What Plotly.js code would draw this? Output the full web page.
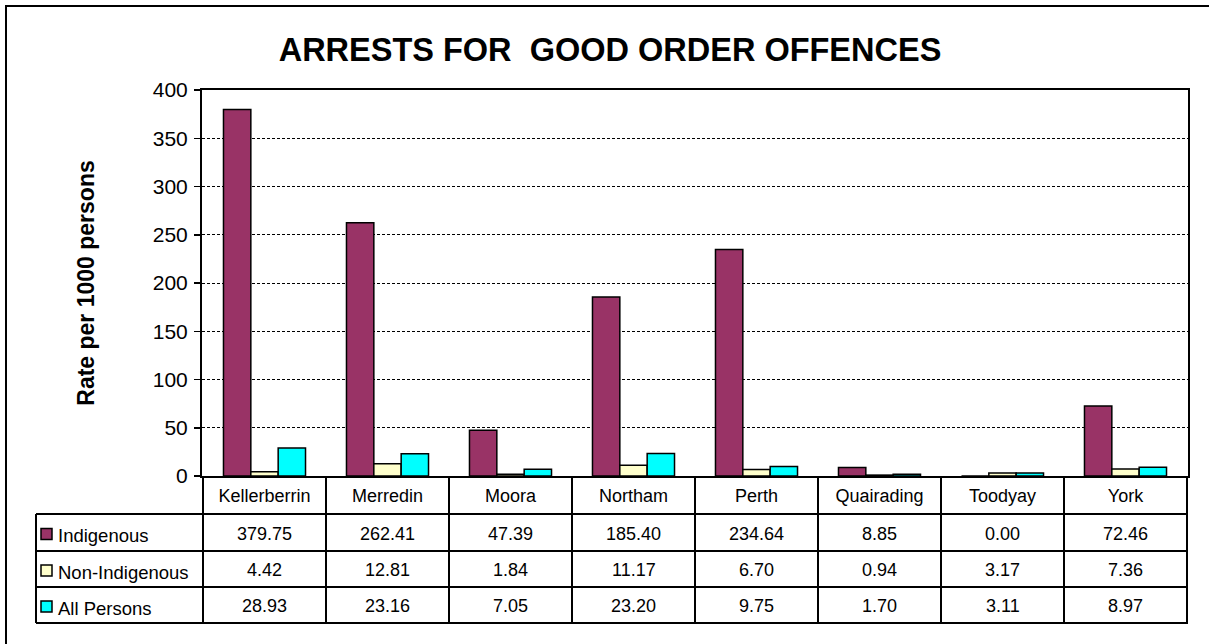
<!DOCTYPE html>
<html>
<head>
<meta charset="utf-8">
<script src="https://cdn.plot.ly/plotly-3.0.1.min.js"></script>
<style>html,body{margin:0;padding:0;background:#fff;}</style>
</head>
<body>
<div id="chart" style="width:1209px;height:644px;"></div>
<script>
// ---- data ----
const categories = ["Kellerberrin", "Merredin", "Moora", "Northam", "Perth", "Quairading", "Toodyay", "York"];
const seriesNames = ["Indigenous", "Non-Indigenous", "All Persons"];
const indigenous = [379.75, 262.41, 47.39, 185.40, 234.64, 8.85, 0.00, 72.46];
const nonIndigenous = [4.42, 12.81, 1.84, 11.17, 6.70, 0.94, 3.17, 7.36];
const allPersons = [28.93, 23.16, 7.05, 23.20, 9.75, 1.70, 3.11, 8.97];
const yTicks = [0, 50, 100, 150, 200, 250, 300, 350, 400];

// ---- layout constants ----
const W = 1209, H = 644;
const M = {l: 202, r: 21, t: 90, b: 168};
const plotW = W - M.l - M.r, plotH = H - M.t - M.b;
const FONT = '"Liberation Sans", Arial, Helvetica, sans-serif';
const colors = ["#993366", "#FFFFCC", "#00FFFF"];
const seriesValues = [indigenous, nonIndigenous, allPersons];

function px2x(px) { return (px - M.l) / plotW; }
function px2y(py) { return (H - M.b - py) / plotH; }

const traces = seriesValues.map((vals, i) => ({
  type: "bar",
  name: seriesNames[i],
  x: categories,
  y: vals,
  marker: {color: colors[i], line: {color: "#000", width: 1.5}},
  showlegend: false,
  hoverinfo: "x+y+name"
}));

// table geometry (pixel rows)
const rowEdges = [514, 551, 587, 623];
const headerTop = H - M.b; // 476
const legendLeft = 36;

const shapes = [];
const annotations = [];

// horizontal lines of table
rowEdges.forEach(py => {
  shapes.push({type: "line", xref: "paper", yref: "paper",
    x0: px2x(legendLeft), x1: 1, y0: px2y(py), y1: px2y(py),
    line: {color: "#000", width: 2}});
});
// vertical lines at category boundaries
for (let i = 0; i <= categories.length; i++) {
  shapes.push({type: "line", xref: "x", yref: "paper",
    x0: i - 0.5, x1: i - 0.5, y0: px2y(headerTop), y1: px2y(rowEdges[rowEdges.length - 1]),
    line: {color: "#000", width: 2}});
}
// left edge of legend column
shapes.push({type: "line", xref: "paper", yref: "paper",
  x0: px2x(legendLeft), x1: px2x(legendLeft), y0: px2y(rowEdges[0]), y1: px2y(rowEdges[rowEdges.length - 1]),
  line: {color: "#000", width: 2}});

// legend swatches + labels, values
for (let r = 0; r < seriesNames.length; r++) {
  const top = rowEdges[r], bot = rowEdges[r + 1];
  const cy = (top + bot) / 2 + 1;
  shapes.push({type: "rect", xref: "paper", yref: "paper",
    x0: px2x(41), x1: px2x(52), y0: px2y(cy - 5), y1: px2y(cy + 6),
    fillcolor: colors[r], line: {color: "#000", width: 1.5}});
  annotations.push({xref: "paper", yref: "paper", x: px2x(56), y: px2y(cy + 2),
    text: seriesNames[r], showarrow: false, xanchor: "left", yanchor: "middle",
    font: {family: FONT, size: 18.5, color: "#000"}});
  seriesValues[r].forEach((v, c) => {
    annotations.push({xref: "x", yref: "paper", x: categories[c], y: px2y(cy),
      text: v.toFixed(2), showarrow: false, xanchor: "center", yanchor: "middle",
      font: {family: FONT, size: 18, color: "#000"}});
  });
}

// outer chart border
shapes.push({type: "rect", xref: "paper", yref: "paper",
  x0: px2x(6), x1: px2x(W + 10), y0: px2y(6), y1: px2y(H + 10),
  line: {color: "#000", width: 2}, fillcolor: "rgba(0,0,0,0)"});

const layout = {
  width: W, height: H,
  margin: M,
  paper_bgcolor: "#fff", plot_bgcolor: "#fff",
  font: {family: FONT, color: "#000"},
  title: {text: "ARRESTS FOR&nbsp;&nbsp;GOOD ORDER OFFENCES", xref: "container", yref: "container",
    x: 610 / W, y: 1 - 50 / H, xanchor: "center", yanchor: "middle",
    font: {family: FONT, size: 32.5, color: "#000", weight: "bold"}},
  barmode: "group",
  bargap: 0.333,
  bargroupgap: 0,
  xaxis: {
    type: "category",
    showline: true, linecolor: "#000", linewidth: 2, mirror: true,
    ticks: "", showgrid: false,
    tickfont: {family: FONT, size: 18, color: "#000"},
    ticklabelstandoff: 2,
    fixedrange: true
  },
  yaxis: {
    range: [0, 400], tickvals: yTicks, ticktext: yTicks.map(String),
    showline: true, linecolor: "#000", linewidth: 2, mirror: true,
    ticks: "outside", ticklen: 6, tickwidth: 1.5, tickcolor: "#000",
    tickfont: {family: FONT, size: 21, color: "#000"},
    ticklabelstandoff: 2,
    showgrid: true, gridcolor: "#000", gridwidth: 1, griddash: "3px,2px",
    zeroline: false,
    title: {text: "<b>Rate per 1000 persons</b>", standoff: 52,
      font: {family: FONT, size: 23, color: "#000"}},
    automargin: false,
    fixedrange: true
  },
  shapes: shapes,
  annotations: annotations
};

Plotly.newPlot("chart", traces, layout, {displayModeBar: false, staticPlot: true});
</script>
</body>
</html>
